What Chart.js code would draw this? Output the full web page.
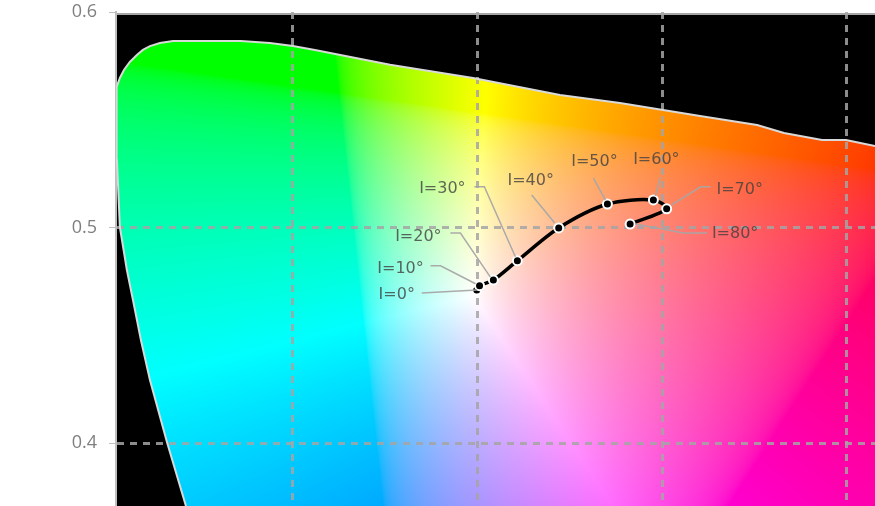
<!DOCTYPE html>
<html>
<head>
<meta charset="utf-8">
<title>Chromaticity track</title>
<style>
  html, body { margin: 0; padding: 0; background: #fff; }
  canvas { display: block; }
</style>
<script src="https://cdn.jsdelivr.net/npm/chart.js@4/dist/chart.umd.min.js"></script>
</head>
<body>
<canvas id="chart" width="875" height="506"></canvas>
<script>
"use strict";

// ---- Data ----

const inclinations = ["I=0°", "I=10°", "I=20°", "I=30°", "I=40°", "I=50°", "I=60°", "I=70°", "I=80°"];
const trackU = [0.1996, 0.2011, 0.2086, 0.2216, 0.2440, 0.2704, 0.2953, 0.3025, 0.2827];
const trackV = [0.4710, 0.4730, 0.4756, 0.4846, 0.4998, 0.5109, 0.5128, 0.5087, 0.5016];

// spectral locus, bottom left, over the top, to the right edge
const locusU = [0.0420, 0.0317, 0.0225, 0.0176, 0.0133, 0.0100, 0.0062, 0.0046, 0.0043, 0.0046, 0.0062,
  0.0084, 0.0116, 0.0154, 0.0187, 0.0225, 0.0279, 0.0350, 0.0718, 0.0875, 0.1000, 0.1119, 0.1526, 0.1976,
  0.2447, 0.2772, 0.3206, 0.3515, 0.3661, 0.3867, 0.3997, 0.4154];
const locusV = [0.3708, 0.4005, 0.4292, 0.4478, 0.4664, 0.4803, 0.5002, 0.5313, 0.5545, 0.5652, 0.5694,
  0.5731, 0.5768, 0.5800, 0.5824, 0.5842, 0.5856, 0.5865, 0.5865, 0.5856, 0.5842, 0.5824, 0.5755, 0.5694,
  0.5615, 0.5578, 0.5517, 0.5476, 0.5439, 0.5406, 0.5406, 0.5378];

const xTicks = [0.1, 0.2, 0.3, 0.4];
const yTicks = [0.4, 0.5, 0.6];

// ---- Label placement, pixels relative to the point ----

const labelStyle = [
  { text: [-80, 5], leader: [[-55, 3], [0, 0]] },
  { text: [-79, -17], leader: [[-49, -20], [-39, -20], [-4, -2]] },
  { text: [-75, -43], leader: [[-43, -47], [-33, -47], [-3, -3]] },
  { text: [-75, -72], leader: [[-43, -74], [-33, -74], [-2, -4]] },
  { text: [-28, -47], leader: [[-27, -33], [-4, -5]] },
  { text: [-13, -42], leader: [[-14, -26], [-2, -4]] },
  { text: [3, -40], leader: [[7, -23], [2, -4]] },
  { text: [73, -19], leader: [[44, -22], [34, -22], [5, -4]] },
  { text: [105, 10], leader: [[77, 9], [53, 9], [5, 0]] },
];

// ---- Colour of a chromaticity ----

function gammaEncode(c) {
  return c <= 0.0031308 ? 12.92 * c : 1.055 * Math.pow(c, 1 / 2.4) - 0.055;
}

function chromaticityToRgb(u, v) {
  const X = 9 * u / (4 * v);
  const Z = (12 - 3 * u - 20 * v) / (4 * v);
  let r = Math.max(0, 3.2406 * X - 1.5372 - 0.4986 * Z);
  let g = Math.max(0, -0.9689 * X + 1.8758 + 0.0415 * Z);
  let b = Math.max(0, 0.0557 * X - 0.2040 + 1.0570 * Z);
  const top = Math.max(r, g, b);
  return [gammaEncode(r / top) * 255, gammaEncode(g / top) * 255, gammaEncode(b / top) * 255];
}

// ---- Plugins ----

const diagramPlugin = {
  id: "diagram",
  beforeDraw(chart) {
    const { ctx, chartArea: a, scales: { x, y } } = chart;
    const w = Math.ceil(a.right - a.left);
    const h = Math.ceil(a.bottom - a.top);
    const off = document.createElement("canvas");
    off.width = w;
    off.height = h;
    const offCtx = off.getContext("2d");
    const img = offCtx.createImageData(w, h);
    for (let py = 0; py < h; py++) {
      const v = y.getValueForPixel(a.top + py + 0.5);
      for (let px = 0; px < w; px++) {
        const u = x.getValueForPixel(a.left + px + 0.5);
        const rgb = chromaticityToRgb(u, v);
        const i = (py * w + px) * 4;
        img.data[i] = rgb[0];
        img.data[i + 1] = rgb[1];
        img.data[i + 2] = rgb[2];
        img.data[i + 3] = 255;
      }
    }
    offCtx.putImageData(img, 0, 0);

    ctx.save();
    // the black plate and its top rule sit a little under the 0.6 tick
    ctx.fillStyle = "#000";
    ctx.fillRect(a.left, a.top + 1, w, h);
    ctx.fillStyle = "#a6a6a6";
    ctx.fillRect(a.left, a.top + 1, w, 2);
    ctx.beginPath();
    locusU.forEach((u, i) => {
      const px = x.getPixelForValue(u);
      const py = y.getPixelForValue(locusV[i]);
      if (i === 0) ctx.moveTo(px, py);
      else ctx.lineTo(px, py);
    });
    ctx.lineTo(a.right, a.bottom);
    ctx.closePath();
    ctx.clip();
    ctx.drawImage(off, a.left, a.top);
    ctx.restore();
  },
};

const leaderPlugin = {
  id: "leaders",
  afterDatasetsDraw(chart) {
    const { ctx, scales: { x, y } } = chart;
    ctx.save();
    labelStyle.forEach((style, i) => {
      const px = x.getPixelForValue(trackU[i]);
      const py = y.getPixelForValue(trackV[i]);
      ctx.strokeStyle = "rgba(166,166,166,0.95)";
      ctx.lineWidth = 1.5;
      ctx.beginPath();
      style.leader.forEach(([dx, dy], k) => {
        if (k === 0) ctx.moveTo(px + dx, py + dy);
        else ctx.lineTo(px + dx, py + dy);
      });
      ctx.stroke();
      ctx.fillStyle = "rgba(64,64,64,0.8)";
      ctx.font = "16px 'DejaVu Sans'";
      ctx.textAlign = "center";
      ctx.textBaseline = "middle";
      ctx.fillText(inclinations[i], px + style.text[0], py + style.text[1]);
    });
    ctx.restore();
  },
};

// ---- Chart ----

const gridDash = [7, 6];
const gridColor = "rgba(165,165,165,0.85)";

new Chart(document.getElementById("chart"), {
  type: "line",
  data: {
    datasets: [
      {
        label: "track",
        data: trackU.map((u, i) => ({ x: u, y: trackV[i] })),
        borderColor: "#000",
        borderWidth: 3.5,
        tension: 0.3,
        pointRadius: 4.5,
        pointBackgroundColor: "#000",
        pointBorderColor: "#fff",
        pointBorderWidth: 2,
      },
      {
        label: "locus",
        data: locusU.map((u, i) => ({ x: u, y: locusV[i] })),
        borderColor: "#d9d9d9",
        borderWidth: 2,
        pointRadius: 0,
        tension: 0,
      },
    ],
  },
  options: {
    responsive: false,
    animation: false,
    layout: { autoPadding: false, padding: { top: 12, right: 0, bottom: 0, left: 0 } },
    plugins: { legend: { display: false }, tooltip: { enabled: false } },
    scales: {
      x: {
        type: "linear",
        min: 0.0041,
        max: 0.4154,
        afterBuildTicks(scale) { scale.ticks = xTicks.map(value => ({ value })); },
        afterFit(scale) { scale.height = 0; scale.paddingLeft = 0; scale.paddingRight = 0; },
        ticks: { display: false },
        grid: { color: gridColor, lineWidth: 3, drawTicks: false },
        border: { display: false, dash: gridDash },
      },
      y: {
        type: "linear",
        min: 0.3708,
        max: 0.6,
        afterBuildTicks(scale) { scale.ticks = yTicks.map(value => ({ value })); },
        afterFit(scale) { scale.width = 116; scale.paddingTop = 0; scale.paddingBottom = 0; },
        ticks: {
          color: "#7f7f7f",
          font: { family: "'Open Sans'", size: 18 },
          padding: 12,
          callback: value => value.toFixed(1),
        },
        grid: {
          color: ctx => (ctx.tick && ctx.tick.value === 0.6 ? "rgba(0,0,0,0)" : gridColor),
          lineWidth: 3,
          tickLength: 7,
          tickColor: "#bfbfbf",
          tickWidth: 1,
        },
        border: { color: "#bfbfbf", width: 2, dash: gridDash },
      },
    },
  },
  plugins: [diagramPlugin, leaderPlugin],
});
</script>
</body>
</html>
